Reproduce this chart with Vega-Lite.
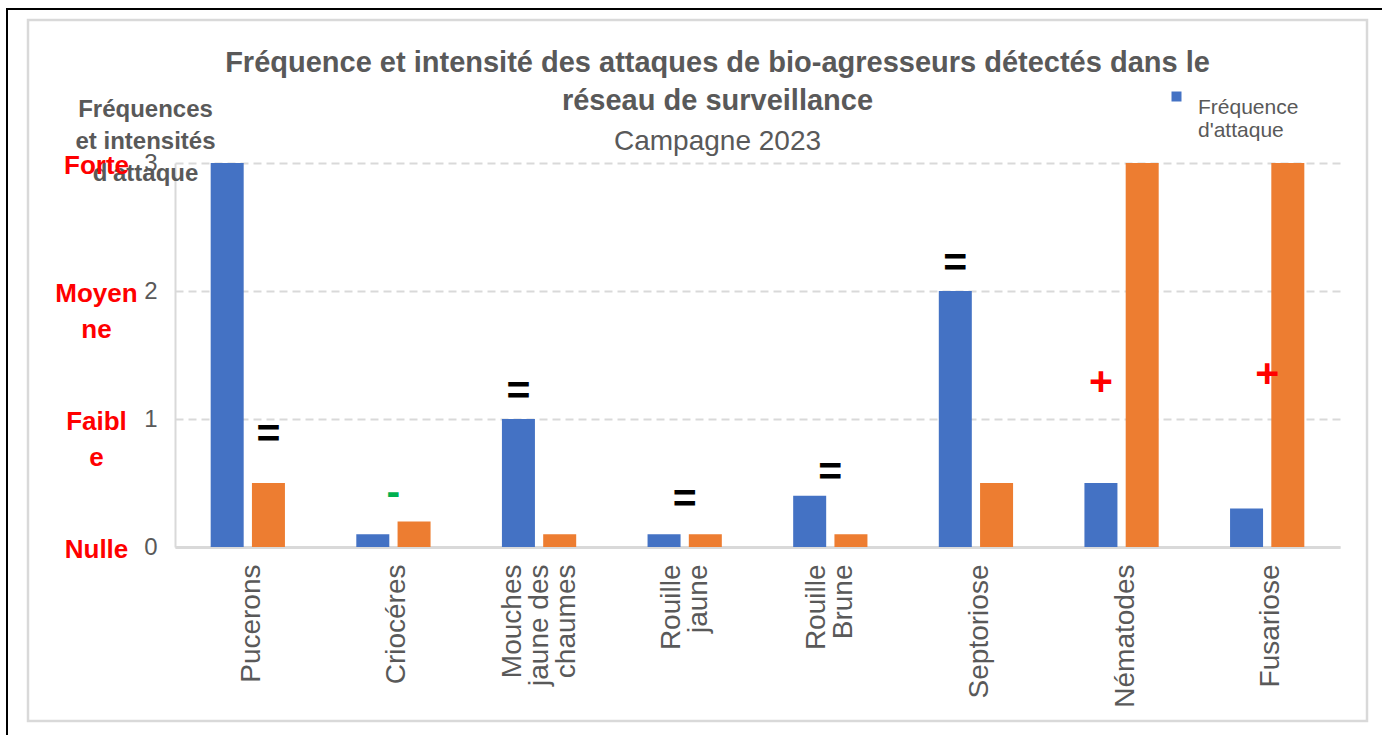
{
  "$schema": "https://vega.github.io/schema/vega-lite/v6.json",
  "autosize": "none",
  "width": 1165,
  "height": 384,
  "padding": {"left": 175, "top": 163, "right": 42, "bottom": 188},
  "background": "white",
  "config": {
    "font": "Liberation Sans",
    "view": {"stroke": null},
    "axis": {"labelFont": "Liberation Sans", "titleFont": "Liberation Sans"}
  },
  "title": {
    "text": ["Fréquence et intensité des attaques de bio-agresseurs détectés dans le", "réseau de surveillance"],
    "subtitle": "Campagne 2023",
    "anchor": "middle",
    "dx": -40,
    "offset": -148,
    "font": "Liberation Sans",
    "fontSize": 29,
    "fontWeight": "bold",
    "color": "#595959",
    "lineHeight": 38,
    "subtitleFont": "Liberation Sans",
    "subtitleFontSize": 28,
    "subtitleColor": "#595959",
    "subtitlePadding": 12
  },
  "datasets": {
    "bars": [
      {"cat": "Pucerons", "serie": "Fréquence d'attaque", "val": 3},
      {"cat": "Pucerons", "serie": "Intensité d'attaque", "val": 0.5},
      {"cat": "Criocéres", "serie": "Fréquence d'attaque", "val": 0.1},
      {"cat": "Criocéres", "serie": "Intensité d'attaque", "val": 0.2},
      {"cat": "Mouches jaune des chaumes", "serie": "Fréquence d'attaque", "val": 1},
      {"cat": "Mouches jaune des chaumes", "serie": "Intensité d'attaque", "val": 0.1},
      {"cat": "Rouille jaune", "serie": "Fréquence d'attaque", "val": 0.1},
      {"cat": "Rouille jaune", "serie": "Intensité d'attaque", "val": 0.1},
      {"cat": "Rouille Brune", "serie": "Fréquence d'attaque", "val": 0.4},
      {"cat": "Rouille Brune", "serie": "Intensité d'attaque", "val": 0.1},
      {"cat": "Septoriose", "serie": "Fréquence d'attaque", "val": 2},
      {"cat": "Septoriose", "serie": "Intensité d'attaque", "val": 0.5},
      {"cat": "Nématodes", "serie": "Fréquence d'attaque", "val": 0.5},
      {"cat": "Nématodes", "serie": "Intensité d'attaque", "val": 3},
      {"cat": "Fusariose", "serie": "Fréquence d'attaque", "val": 0.3},
      {"cat": "Fusariose", "serie": "Intensité d'attaque", "val": 3}
    ],
    "marks": [
      {"cat": "Pucerons", "sym": "=", "pos": 0.875, "col": "#000000", "anchor": "Intensité d'attaque"},
      {"cat": "Criocéres", "sym": "-", "pos": 0.42, "col": "#00B050", "anchor": "centre"},
      {"cat": "Mouches jaune des chaumes", "sym": "=", "pos": 1.21, "col": "#000000", "anchor": "Fréquence d'attaque"},
      {"cat": "Rouille jaune", "sym": "=", "pos": 0.37, "col": "#000000", "anchor": "centre"},
      {"cat": "Rouille Brune", "sym": "=", "pos": 0.58, "col": "#000000", "anchor": "centre"},
      {"cat": "Septoriose", "sym": "=", "pos": 2.21, "col": "#000000", "anchor": "Fréquence d'attaque"},
      {"cat": "Nématodes", "sym": "+", "pos": 1.28, "col": "#FF0000", "anchor": "Fréquence d'attaque"},
      {"cat": "Fusariose", "sym": "+", "pos": 1.34, "col": "#FF0000", "anchor": "centre"}
    ]
  },
  "resolve": {"axis": {"y": "independent"}},
  "layer": [
    {
      "data": {"values": [{}]},
      "mark": {"type": "rect", "fill": null, "stroke": "#000000", "strokeWidth": 2},
      "encoding": {"x": {"value": -168}, "x2": {"value": 1230}, "y": {"value": -154}, "y2": {"value": 600}}
    },
    {
      "data": {"values": [{}]},
      "mark": {"type": "rect", "fill": null, "stroke": "#d9d9d9", "strokeWidth": 2.5},
      "encoding": {"x": {"value": -147}, "x2": {"value": 1192}, "y": {"value": -143}, "y2": {"value": 558}}
    },
    {
      "data": {"name": "bars"},
      "mark": {"type": "bar"},
      "encoding": {
        "x": {
          "field": "cat", "type": "nominal", "sort": null,
          "scale": {"domain": ["Pucerons", "Criocéres", "Mouches jaune des chaumes", "Rouille jaune", "Rouille Brune", "Septoriose", "Nématodes", "Fusariose"], "paddingInner": 0.49, "paddingOuter": 0.245},
          "axis": {
            "title": null,
            "labelAngle": 270,
            "labelAlign": "right",
            "labelBaseline": "middle",
            "labelFontSize": 28,
            "labelColor": "#595959",
            "labelLineHeight": 27,
            "labelPadding": 17,
            "labelLimit": 400,
            "labelOffset": {
              "condition": [
                {"test": "datum.value == 'Mouches jaune des chaumes'", "value": -26},
                {"test": "datum.value == 'Rouille jaune' || datum.value == 'Rouille Brune'", "value": -13}
              ],
              "value": 4
            },
            "ticks": false,
            "tickSize": 0,
            "domainColor": "#d9d9d9",
            "domainWidth": 3,
            "labelExpr": "datum.value == 'Mouches jaune des chaumes' ? ['Mouches', 'jaune des', 'chaumes'] : datum.value == 'Rouille jaune' ? ['Rouille', 'jaune'] : datum.value == 'Rouille Brune' ? ['Rouille', 'Brune'] : datum.value"
          }
        },
        "xOffset": {
          "field": "serie", "type": "nominal", "sort": null,
          "scale": {"domain": ["Fréquence d'attaque", "Intensité d'attaque"], "paddingInner": 0.2, "paddingOuter": 0}
        },
        "y": {
          "field": "val", "type": "quantitative",
          "scale": {"domain": [0, 3], "nice": false},
          "axis": {
            "orient": "left",
            "values": [0, 1, 2, 3],
            "format": "d",
            "labelFontSize": 24,
            "labelColor": "#595959",
            "labelPadding": 18,
            "ticks": false,
            "tickSize": 0,
            "grid": true,
            "gridColor": "#d9d9d9",
            "gridDash": [8, 5],
            "gridWidth": 2,
            "domain": true,
            "domainColor": "#d9d9d9",
            "domainWidth": 2,
            "title": ["Fréquences", "et intensités", "d'attaque"],
            "titleAngle": 0,
            "titleAlign": "center",
            "titleBaseline": "top",
            "titleX": -30,
            "titleY": -66,
            "titleFontSize": 24,
            "titleFontWeight": "bold",
            "titleColor": "#595959",
            "titleLineHeight": 32
          }
        },
        "color": {
          "field": "serie", "type": "nominal",
          "scale": {"domain": ["Fréquence d'attaque", "Intensité d'attaque"], "range": ["#4472C4", "#ED7D31"]},
          "legend": {
            "orient": "none",
            "legendX": 991,
            "legendY": -77,
            "values": ["Fréquence d'attaque"],
            "title": null,
            "symbolType": "square",
            "symbolSize": 100,
            "symbolStrokeWidth": 0,
            "labelFontSize": 21,
            "labelColor": "#595959",
            "labelFont": "Liberation Sans",
            "labelOffset": 11,
            "labelBaseline": "top",
            "labelLimit": 300,
            "labelExpr": "['Fréquence', \"d'attaque\"]"
          }
        }
      }
    },
    {
      "data": {"name": "marks"},
      "transform": [{"filter": "datum.anchor != 'centre'"}],
      "mark": {"type": "text", "fontSize": 41, "fontWeight": "bold", "font": "Liberation Sans", "baseline": "middle", "align": "center"},
      "encoding": {
        "x": {"field": "cat", "type": "nominal"},
        "xOffset": {"field": "anchor", "type": "nominal"},
        "y": {"field": "pos", "type": "quantitative", "axis": null},
        "text": {"field": "sym"},
        "fill": {"field": "col", "type": "nominal", "scale": null}
      }
    },
    {
      "data": {"name": "marks"},
      "transform": [{"filter": "datum.anchor == 'centre'"}],
      "mark": {"type": "text", "fontSize": 41, "fontWeight": "bold", "font": "Liberation Sans", "baseline": "middle", "align": "center"},
      "encoding": {
        "x": {"field": "cat", "type": "nominal"},
        "y": {
          "field": "pos", "type": "quantitative",
          "axis": {
            "orient": "left",
            "values": [0, 1, 2, 3],
            "title": null,
            "domain": false,
            "ticks": false,
            "tickSize": 0,
            "grid": false,
            "labelColor": "#FF0000",
            "labelFontSize": 26,
            "labelFontWeight": "bold",
            "labelAlign": "center",
            "labelBaseline": "top",
            "labelOffset": -11,
            "labelPadding": 79,
            "labelLineHeight": 36,
            "zindex": 2,
            "labelExpr": "datum.value == 3 ? 'Forte' : datum.value == 2 ? ['Moyen', 'ne'] : datum.value == 1 ? ['Faibl', 'e'] : 'Nulle'"
          }
        },
        "text": {"field": "sym"},
        "fill": {"field": "col", "type": "nominal", "scale": null}
      }
    }
  ]
}
